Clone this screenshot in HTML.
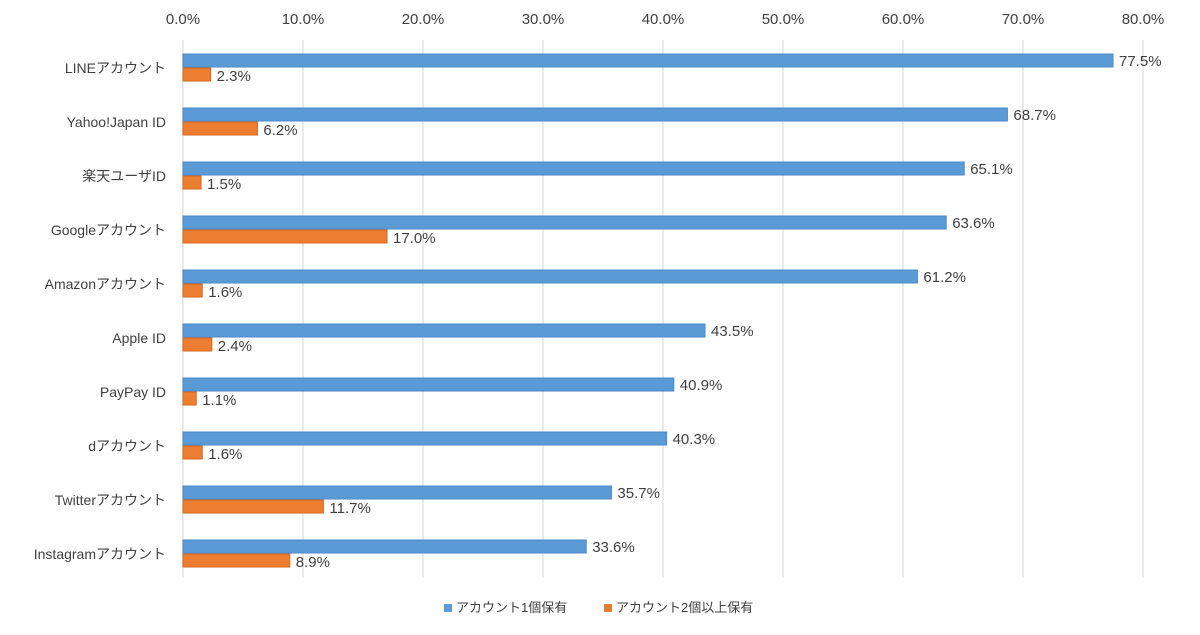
<!DOCTYPE html>
<html><head><meta charset="utf-8"><style>
body{margin:0;background:#fff;}
svg text{font-family:"Liberation Sans","Noto Sans CJK JP",sans-serif;fill:#404040;}
</style></head><body>
<svg id="chart" width="1200" height="630" xmlns="http://www.w3.org/2000/svg"></svg>
<script>
const categories=["LINEアカウント","Yahoo!Japan ID","楽天ユーザID","Googleアカウント","Amazonアカウント","Apple ID","PayPay ID","dアカウント","Twitterアカウント","Instagramアカウント"];
const seriesOne=[77.5,68.7,65.1,63.6,61.2,43.5,40.9,40.3,35.7,33.6];
const seriesTwo=[2.3,6.2,1.5,17.0,1.6,2.4,1.1,1.6,11.7,8.9];
const ticks=[0,10,20,30,40,50,60,70,80];
const svg=document.getElementById('chart');
const NS='http://www.w3.org/2000/svg';
const x=v=>183+v*12;
const yc=i=>68+i*54;
function mk(t,a,txt){const e=document.createElementNS(NS,t);for(const k in a)e.setAttribute(k,a[k]);if(txt!=null)e.textContent=txt;svg.appendChild(e);return e;}
ticks.forEach(t=>{
 const g=mk('line',{x1:x(t),x2:x(t),y1:40,y2:578,stroke:'#e4e4e4','stroke-width':1.5});
 
 
 const l=mk('text',{x:x(t),y:24,'text-anchor':'middle','font-size':15},t.toFixed(1)+'%');
 
 
});
categories.forEach((c,i)=>{
 const cy=yc(i);
 const lab=mk('text',{x:166,y:cy+5,'text-anchor':'end','font-size':14},c);
 
 
 const b=mk('rect',{x:x(0),y:cy-14,width:x(seriesOne[i])-x(0),height:13,fill:'#5b9bd5',stroke:'#4a8acb','stroke-width':1});
 
 
 const o=mk('rect',{x:x(0),y:cy,width:x(seriesTwo[i])-x(0),height:13,fill:'#ed7d31',stroke:'#d9661c','stroke-width':1});
 
 
 const v1=mk('text',{x:x(seriesOne[i])+6,y:cy-2,'font-size':15},seriesOne[i].toFixed(1)+'%');
 
 
 const v2=mk('text',{x:x(seriesTwo[i])+6,y:cy+13,'font-size':15},seriesTwo[i].toFixed(1)+'%');
 
 
});
const s1=mk('rect',{x:444,y:604,width:8,height:8,fill:'#5b9bd5'});


const t1=mk('text',{x:456,y:612,'font-size':13},'アカウント1個保有');


const s2=mk('rect',{x:604,y:604,width:8,height:8,fill:'#ed7d31'});


const t2=mk('text',{x:616,y:612,'font-size':13},'アカウント2個以上保有');


</script>
</body></html>
